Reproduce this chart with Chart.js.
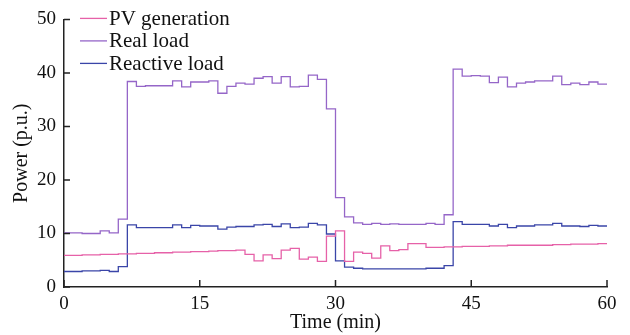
<!DOCTYPE html>
<html>
<head>
<meta charset="utf-8">
<script src="https://cdn.jsdelivr.net/npm/chart.js@4/dist/chart.umd.min.js"></script>
<style>
  html, body { margin: 0; padding: 0; background: #fff; }
  #wrap { width: 630px; height: 335px; }
</style>
</head>
<body>
<div id="wrap"><canvas id="myChart" width="630" height="335"></canvas></div>
<script>
// time in minutes
const times = [0,1,2,3,4,5,6,7,8,9,10,11,12,13,14,15,16,17,18,19,20,
  21,22,23,24,25,26,27,28,29,30,31,32,33,34,35,36,37,38,39,40,
  41,42,43,44,45,46,47,48,49,50,51,52,53,54,55,56,57,58,59,60];

const pvGeneration = [5.9,5.9,6.0,6.0,6.1,6.1,6.2,6.2,6.3,6.3,6.4,6.4,6.5,6.5,6.6,6.6,6.7,6.8,6.8,6.9,6.1,
  4.9,6.0,5.3,6.9,7.2,5.2,5.6,4.8,9.5,10.5,4.8,6.5,6.3,5.4,7.7,6.8,7.0,8.1,8.1,7.4,
  7.4,7.5,7.5,7.6,7.6,7.6,7.7,7.7,7.8,7.8,7.8,7.8,7.8,7.9,7.9,8.0,8.0,8.0,8.1,8.1];

const realLoad = [10.1,10.1,10.0,10.0,10.5,10.1,12.7,38.4,37.5,37.6,37.6,37.6,38.5,37.4,38.3,38.3,38.5,36.2,37.5,38.1,37.9,
  39.0,39.3,38.1,39.3,37.4,37.5,39.6,38.8,33.3,16.7,13.1,12.0,11.7,11.9,11.7,11.8,11.7,11.7,11.7,11.9,
  11.7,13.5,40.7,39.4,39.5,39.4,38.2,39.2,37.4,38.1,38.3,38.5,38.5,39.4,37.8,38.1,37.8,38.3,37.9,37.9];

const reactiveLoad = [2.9,2.9,3.0,3.0,3.1,2.9,3.8,11.6,11.1,11.1,11.1,11.1,11.6,11.1,11.5,11.4,11.4,10.8,11.2,11.3,11.3,
  11.6,11.7,11.3,11.8,11.1,11.2,11.9,11.6,9.9,4.9,3.7,3.5,3.4,3.4,3.4,3.4,3.4,3.4,3.4,3.5,
  3.5,4.0,12.2,11.7,11.7,11.7,11.4,11.7,11.1,11.4,11.4,11.6,11.6,11.9,11.4,11.4,11.3,11.5,11.4,11.4];

const xTicks = [0, 15, 30, 45, 60];
const yTicks = [0, 10, 20, 30, 40, 50];

const seriesNames = ['PV generation', 'Real load', 'Reactive load'];
const seriesColors = ['#e661a8', '#9566c8', '#3a45a8'];

const font = 'Liberation Serif, Times New Roman, serif';

function toPoints(arr) {
  return arr.map((v, i) => ({x: times[i], y: v}));
}

// ticks pointing into the plot, plus the legend in the top-left corner
const insidePlugin = {
  id: 'inside',
  afterDraw(chart) {
    const ctx = chart.ctx;
    const a = chart.chartArea;
    const xs = chart.scales.x, ys = chart.scales.y;
    ctx.save();
    ctx.strokeStyle = '#222';
    ctx.lineWidth = 1.5;
    ctx.beginPath();
    xTicks.forEach(t => {
      const px = xs.getPixelForValue(t);
      ctx.moveTo(px, a.bottom);
      ctx.lineTo(px, a.bottom - 7);
    });
    yTicks.forEach(t => {
      const py = ys.getPixelForValue(t);
      ctx.moveTo(a.left, py);
      ctx.lineTo(a.left + 6, py);
    });
    ctx.stroke();

    ctx.font = '21px ' + font;
    ctx.textBaseline = 'middle';
    ctx.fillStyle = '#111';
    seriesNames.forEach((name, i) => {
      const y = a.top - 1 + i * 22.5;
      ctx.strokeStyle = seriesColors[i];
      ctx.lineWidth = 1.3;
      ctx.beginPath();
      ctx.moveTo(a.left + 16, y);
      ctx.lineTo(a.left + 43, y);
      ctx.stroke();
      ctx.fillText(name, a.left + 45, y + 1);
    });
    ctx.restore();
  }
};

const ctx = document.getElementById('myChart').getContext('2d');
new Chart(ctx, {
  type: 'line',
  data: {
    datasets: [pvGeneration, realLoad, reactiveLoad].map((d, i) => ({
      label: seriesNames[i],
      data: toPoints(d),
      borderColor: seriesColors[i],
      backgroundColor: seriesColors[i],
      borderWidth: 1.3,
      pointRadius: 0,
      stepped: true,
      fill: false
    }))
  },
  options: {
    responsive: false,
    animation: false,
    layout: {padding: {left: 0, right: 23, top: 16, bottom: 0}},
    plugins: {legend: {display: false}, tooltip: {enabled: false}},
    scales: {
      x: {
        type: 'linear',
        min: 0, max: 60,
        afterBuildTicks: s => { s.ticks = xTicks.map(v => ({value: v})); },
        afterFit: s => { s.height = 48; },
        grid: {display: true, drawOnChartArea: false, drawTicks: false},
        border: {display: true, color: '#222', width: 1.5},
        ticks: {color: '#111', padding: 6, font: {family: font, size: 19}, maxRotation: 0},
        title: {display: true, text: 'Time (min)', color: '#111', padding: {top: -2, bottom: 0}, font: {family: font, size: 20}}
      },
      y: {
        min: 0, max: 50,
        afterBuildTicks: s => { s.ticks = yTicks.map(v => ({value: v})); },
        afterFit: s => { s.width = 64; },
        grid: {display: true, drawOnChartArea: false, drawTicks: false},
        border: {display: true, color: '#222', width: 1.5},
        ticks: {color: '#111', padding: 8, font: {family: font, size: 19}},
        title: {display: true, text: 'Power (p.u.)', color: '#111', padding: {top: 10, bottom: 0}, font: {family: font, size: 20}}
      }
    }
  },
  plugins: [insidePlugin]
});
</script>
</body>
</html>
